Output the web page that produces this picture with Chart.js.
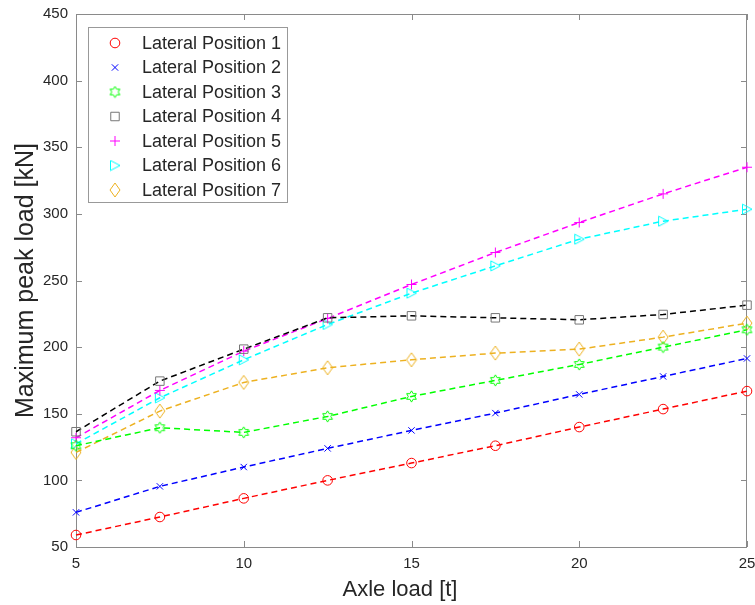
<!DOCTYPE html>
<html>
<head>
<meta charset="utf-8">
<script src="https://cdn.jsdelivr.net/npm/chart.js@4.4.0/dist/chart.umd.min.js"></script>
<style>
  html, body { margin: 0; padding: 0; background: #fff; }
  #wrap { width: 755px; height: 605px; position: relative; overflow: hidden; }
</style>
</head>
<body>
<div id="wrap"><canvas id="chart" width="755" height="605"></canvas></div>
<script>
/* data */
const axleLoad = [5, 7.5, 10, 12.5, 15, 17.5, 20, 22.5, 25];
const pos1 = [59, 72.5, 86.5, 100, 113, 126, 140, 153.5, 167];
const pos2 = [76, 95.5, 110, 124, 137.5, 150.5, 164.5, 178, 191.5];
const pos3 = [126, 139.5, 136, 148, 163, 175, 187, 200, 213];
const pos4 = [136.5, 174.5, 198.5, 222, 223.5, 222, 220.5, 224.5, 231.5];
const pos5 = [132, 167.5, 197, 221.5, 247, 271, 293.5, 315, 335];
const pos6 = [127.5, 162, 190.5, 217, 240.5, 261, 281, 294.5, 303.5];
const pos7 = [121, 152, 173.5, 184.5, 190.5, 195.5, 198.5, 207.5, 218];

const seriesNames = ["Lateral Position 1", "Lateral Position 2", "Lateral Position 3",
  "Lateral Position 4", "Lateral Position 5", "Lateral Position 6", "Lateral Position 7"];
const seriesValues = [pos1, pos2, pos3, pos4, pos5, pos6, pos7];

const xTicks = [5, 10, 15, 20, 25];
const yTicks = [50, 100, 150, 200, 250, 300, 350, 400, 450];

const colors = ["#ff0000", "#0000ff", "#00ff00", "#000000", "#ff00ff", "#00ffff", "#edb120"];
const FONT = "'Liberation Sans', Arial, sans-serif";
const AXIS = "#8a8a8a";
const TEXT = "#262626";

/* marker shapes that Chart.js lacks */
function markerCanvas(w, h, color, pts){
  const c = document.createElement("canvas");
  c.width = w; c.height = h;
  const g = c.getContext("2d");
  g.strokeStyle = color;
  g.lineWidth = 1;
  g.beginPath();
  pts.forEach((p, i) => i ? g.lineTo(p[0], p[1]) : g.moveTo(p[0], p[1]));
  g.closePath();
  g.stroke();
  return c;
}
function hexagram(color){
  const pts = [], cx = 6.5, cy = 6.5, R = 5.6, r = R / Math.sqrt(3);
  for(let i = 0; i < 12; i++){
    const a = -Math.PI / 2 + i * Math.PI / 6;
    const rr = i % 2 ? r : R;
    pts.push([cx + rr * Math.cos(a), cy + rr * Math.sin(a)]);
  }
  return markerCanvas(13, 13, color, pts);
}
const triRight = markerCanvas(12, 12, colors[5], [[1.5, 1], [11, 6], [1.5, 11]]);
const diamond = markerCanvas(12, 16, colors[6], [[6, 1], [11, 8], [6, 15], [1, 8]]);

const markers = [
  { pointStyle: "circle", pointRadius: 4.8 },
  { pointStyle: "crossRot", pointRadius: 4.5 },
  { pointStyle: hexagram(colors[2]), pointRadius: 6 },
  { pointStyle: "rect", pointRadius: 6 },
  { pointStyle: "cross", pointRadius: 5 },
  { pointStyle: triRight, pointRadius: 6 },
  { pointStyle: diamond, pointRadius: 7 }
];

const datasets = seriesValues.map((vals, i) => ({
  label: seriesNames[i],
  data: axleLoad.map((x, j) => ({ x, y: vals[j] })),
  borderColor: colors[i],
  backgroundColor: "rgba(0,0,0,0)",
  borderWidth: 1.5,
  borderDash: [6, 4],
  tension: 0,
  fill: false,
  clip: false,
  pointStyle: markers[i].pointStyle,
  pointRadius: markers[i].pointRadius,
  pointHoverRadius: markers[i].pointRadius,
  pointBorderColor: i === 3 ? "#777" : colors[i],
  pointBackgroundColor: "rgba(0,0,0,0)",
  pointBorderWidth: 1
}));

/* box, inward ticks, x title and legend */
const frame = {
  id: "frame",
  beforeDatasetsDraw(chart){
    const { ctx, chartArea: a, scales } = chart;
    ctx.save();
    ctx.strokeStyle = AXIS;
    ctx.lineWidth = 1;
    ctx.strokeRect(a.left + 0.5, a.top + 0.5, a.right - a.left - 1, a.bottom - a.top);
    ctx.beginPath();
    xTicks.forEach(v => {
      const px = Math.round(scales.x.getPixelForValue(v)) + 0.5;
      ctx.moveTo(px, a.bottom); ctx.lineTo(px, a.bottom - 6);
      ctx.moveTo(px, a.top); ctx.lineTo(px, a.top + 6);
    });
    yTicks.forEach(v => {
      const py = Math.round(scales.y.getPixelForValue(v)) + 0.5;
      ctx.moveTo(a.left, py); ctx.lineTo(a.left + 6, py);
      ctx.moveTo(a.right, py); ctx.lineTo(a.right - 6, py);
    });
    ctx.stroke();
    ctx.restore();
  },
  afterDraw(chart){
    const { ctx } = chart;
    ctx.save();
    // x axis title
    ctx.fillStyle = TEXT;
    ctx.font = "22px " + FONT;
    ctx.textAlign = "center";
    ctx.textBaseline = "middle";
    ctx.fillText("Axle load [t]", 400, 590);
    // legend
    const lx = 88, ly = 27, lw = 199, lh = 175;
    ctx.fillStyle = "#fff";
    ctx.fillRect(lx, ly, lw, lh);
    ctx.strokeStyle = "#999";
    ctx.lineWidth = 1;
    ctx.strokeRect(lx + 0.5, ly + 0.5, lw, lh);
    ctx.font = "18px " + FONT;
    ctx.textAlign = "left";
    chart.data.datasets.forEach((ds, i) => {
      const cy = 43 + i * 24.5;
      ctx.strokeStyle = ds.pointBorderColor;
      ctx.fillStyle = "rgba(0,0,0,0)";
      ctx.lineWidth = 1;
      Chart.helpers.drawPoint(ctx, {
        pointStyle: ds.pointStyle, radius: ds.pointRadius, rotation: 0, borderWidth: 1
      }, 115, cy);
      ctx.fillStyle = TEXT;
      ctx.fillText(ds.label, 142, cy + 1);
    });
    ctx.restore();
  }
};

new Chart(document.getElementById("chart"), {
  type: "line",
  data: { datasets },
  options: {
    responsive: false,
    animation: false,
    layout: { padding: { top: 14, right: 6, left: 0, bottom: 0 } },
    plugins: { legend: { display: false }, tooltip: { enabled: false } },
    scales: {
      x: {
        type: "linear",
        min: 5, max: 25,
        afterBuildTicks: s => { s.ticks = xTicks.map(v => ({ value: v })); },
        afterFit: s => { s.height = 58; s.paddingLeft = 0; s.paddingRight = 0; },
        grid: { display: false, drawTicks: false },
        border: { display: false },
        ticks: { color: TEXT, font: { family: FONT, size: 15 }, padding: 8, maxRotation: 0 }
      },
      y: {
        type: "linear",
        min: 50, max: 450,
        afterBuildTicks: s => { s.ticks = yTicks.map(v => ({ value: v })); },
        afterFit: s => { s.width = 76; s.paddingTop = 0; s.paddingBottom = 0; },
        grid: { display: false, drawTicks: false },
        border: { display: false },
        ticks: { color: TEXT, font: { family: FONT, size: 15 }, padding: 8 },
        title: {
          display: true,
          text: "Maximum peak load [kN]",
          color: TEXT,
          font: { family: FONT, size: 25 },
          padding: { top: 11, bottom: 0 }
        }
      }
    }
  },
  plugins: [frame]
});
</script>
</body>
</html>
